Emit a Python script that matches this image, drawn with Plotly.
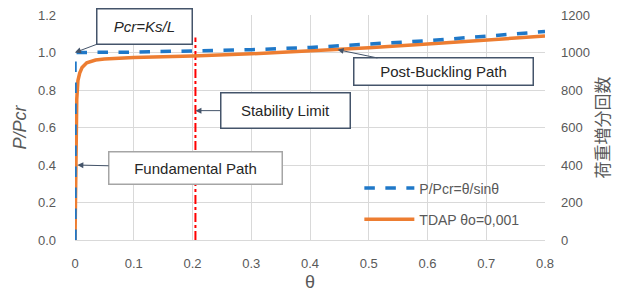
import plotly.graph_objects as go

theta_exact = [0, 0, 0.1, 0.2, 0.3, 0.4, 0.5, 0.6, 0.7, 0.8]
p_exact = [0, 1.0, 1.002, 1.007, 1.015, 1.027, 1.043, 1.063, 1.087, 1.112]

theta_tdap = [0, 0.001, 0.002, 0.003, 0.005, 0.008, 0.012, 0.02, 0.035, 0.05, 0.1, 0.2, 0.3, 0.4, 0.5, 0.6, 0.7, 0.8]
p_tdap = [0, 0.3, 0.6, 0.75, 0.85, 0.89, 0.92, 0.945, 0.96, 0.965, 0.974, 0.981, 0.993, 1.008, 1.026, 1.045, 1.066, 1.088]

stab_x = [0.205, 0.205]
stab_y = [0, 1.08]

x_ticks = [0, 0.1, 0.2, 0.3, 0.4, 0.5, 0.6, 0.7, 0.8]
x_ticklabels = ["0", "0.1", "0.2", "0.3", "0.4", "0.5", "0.6", "0.7", "0.8"]
y_ticks = [0, 0.2, 0.4, 0.6, 0.8, 1.0, 1.2]
y2_ticks = [0, 200, 400, 600, 800, 1000, 1200]

FONT = "Liberation Sans"
GRAY = "#595959"

fig = go.Figure()
fig.add_trace(go.Scatter(x=stab_x, y=stab_y, mode="lines", showlegend=False,
                         line=dict(color="#FF0000", width=2, dash="dashdot"), hoverinfo="skip"))
fig.add_trace(go.Scatter(x=theta_tdap, y=p_tdap, mode="lines", name="TDAP θo=0,001",
                         legendgroup="b", legendrank=2, line=dict(color="#ED7D31", width=3.5)))
fig.add_trace(go.Scatter(x=theta_exact, y=p_exact, mode="lines", name="P/Pcr=θ/sinθ",
                         legendgroup="a", legendrank=1, line=dict(color="#1F78C8", width=3.5, dash="dash")))
fig.add_trace(go.Scatter(x=[0.8], y=[0], yaxis="y2", mode="markers", showlegend=False,
                         marker=dict(opacity=0), hoverinfo="skip"))

fig.update_layout(
    width=625, height=292,
    margin=dict(l=75, r=80, t=15, b=52, autoexpand=False),
    paper_bgcolor="white", plot_bgcolor="white",
    font=dict(family=FONT, color=GRAY, size=13),
    xaxis=dict(range=[0, 0.8], tickvals=x_ticks, ticktext=x_ticklabels, automargin=False,
               showgrid=True, gridcolor="#D9D9D9", zeroline=False,
               showline=True, linecolor="#D9D9D9", ticks="", ticklabelstandoff=11,
               title=dict(text="θ", font=dict(size=18, color=GRAY), standoff=6),
               tickfont=dict(size=13, color=GRAY)),
    yaxis=dict(range=[0, 1.2], tickvals=y_ticks, tickformat=".1f", automargin=False,
               showgrid=True, gridcolor="#D9D9D9", zeroline=False,
               showline=False, ticks="", ticklabelstandoff=18,
               title=dict(text="<i>P/Pcr</i>", font=dict(size=18, color=GRAY), standoff=6),
               tickfont=dict(size=13, color=GRAY)),
    yaxis2=dict(range=[0, 1200], tickvals=y2_ticks, overlaying="y", side="right", automargin=False,
                showgrid=False, zeroline=False, showline=False, ticks="", ticklabelstandoff=15,
                title=dict(text="荷重増分回数", font=dict(size=17, color=GRAY, family="Noto Sans CJK JP"), standoff=8),
                tickfont=dict(size=13, color=GRAY)),
    legend=dict(x=0.605, y=0.3, xanchor="left", yanchor="top", bgcolor="rgba(0,0,0,0)",
                font=dict(size=14, color=GRAY), traceorder="grouped",
                itemwidth=50, tracegroupgap=10),
    showlegend=True,
)

ARROW = "#44546A"
def ann(x, y, text, ax, ay, w, h, border, italic=False):
    fig.add_annotation(x=x, y=y, xref="x", yref="y", text=f"<i>{text}</i>" if italic else text,
                       showarrow=True, ax=ax, ay=ay, axref="pixel", ayref="pixel",
                       arrowhead=2, arrowsize=1.2, arrowwidth=1, arrowcolor=ARROW,
                       bgcolor="white", bordercolor=border, borderwidth=1.5,
                       width=w, height=h, font=dict(size=15, color="#262626", family=FONT))

ann(0, 1.0, "Pcr=Ks/L", 69, -26, 92, 32, ARROW, italic=True)
ann(0.205, 0.69, "Stability Limit", 90, 0, 126, 32, ARROW)
ann(0.447, 1.015, "Post-Buckling Path", 106, 22, 176, 24, ARROW)
ann(0.004, 0.4, "Fundamental Path", 118, 3, 170, 29, "#A5A5A5")

fig.write_html("out.html", config={"displayModeBar": False},
               post_script="document.body.style.margin='0';document.body.style.overflow='hidden';")
